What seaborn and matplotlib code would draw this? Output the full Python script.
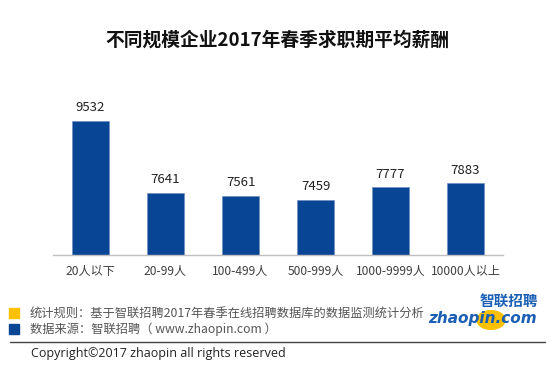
import numpy as np
import pandas as pd
import matplotlib
matplotlib.use("Agg")
import matplotlib.pyplot as plt
from matplotlib.patches import Rectangle, Circle
from matplotlib.lines import Line2D
import seaborn as sns

# data
sizes = ["20人以下", "20-99人", "100-499人", "500-999人", "1000-9999人", "10000人以上"]
salary = [9532, 7641, 7561, 7459, 7777, 7883]

title = "不同规模企业2017年春季求职期平均薪酬"
note_rule = "统计规则：基于智联招聘2017年春季在线招聘数据库的数据监测统计分析"
note_source = "数据来源：智联招聘（ www.zhaopin.com ）"
copyright_txt = "Copyright©2017 zhaopin all rights reserved"

sns.set_theme(style="white")
plt.rcParams["font.family"] = ["Noto Sans CJK SC", "DejaVu Sans"]

blue = "#084594"
yellow = "#FFC000"

df = pd.DataFrame({"size": sizes, "salary": salary})

fig = plt.figure(figsize=(5.5, 3.67), dpi=100)
ax = fig.add_axes([53 / 550, 1 - 255 / 367, 450 / 550, 171 / 367])

sns.barplot(data=df, x="size", y="salary", color=blue, width=0.5,
            saturation=1, ax=ax, edgecolor="#6f8fc0", linewidth=0.5)
ax.set_ylim(6000, 10500)
ax.set_xlim(-0.5, len(sizes) - 0.5)
ax.bar_label(ax.containers[0], fmt="%d", padding=5, fontsize=9.5, color="#222222")

ax.set_xlabel("")
ax.set_ylabel("")
ax.set_yticks([])
for side in ["top", "right", "left"]:
    ax.spines[side].set_visible(False)
ax.spines["bottom"].set_color("#c0c0c0")
ax.spines["bottom"].set_linewidth(1)
ax.tick_params(axis="x", which="major", length=0, labelsize=8.7,
               labelcolor="#404040", pad=7)
ax.set_xticks(np.arange(-0.5, len(sizes)), minor=True)
ax.tick_params(axis="x", which="minor", length=4, color="#c0c0c0", width=1,
               direction="out")

fig.text(277 / 550, 1 - 40 / 367, title, ha="center", va="center",
         fontsize=13.5, fontweight="bold", color="#111111")

# footer notes
fig.patches.append(Rectangle((9 / 550, 1 - 318 / 367), 10 / 550, 10 / 367,
                             transform=fig.transFigure, color=yellow))
fig.patches.append(Rectangle((9 / 550, 1 - 334 / 367), 10 / 550, 10 / 367,
                             transform=fig.transFigure, color=blue))
fig.text(30 / 550, 1 - 313 / 367, note_rule, ha="left", va="center",
         fontsize=8.8, color="#555555")
fig.text(30 / 550, 1 - 329 / 367, note_source, ha="left", va="center",
         fontsize=8.8, color="#555555")
fig.lines.append(Line2D([10 / 550, 545 / 550], [1 - 342 / 367] * 2,
                        transform=fig.transFigure, color="#444444", lw=1))
fig.text(31 / 550, 1 - 354 / 367, copyright_txt, ha="left", va="center",
         fontsize=9, color="#222222", family="Open Sans")

# logo
fig.patches.append(Circle((491 / 550, 1 - 320 / 367), 14 / 550,
                          transform=fig.transFigure, color=yellow))
fig.text(538 / 550, 1 - 301 / 367, "智联招聘", ha="right", va="center",
         fontsize=10.5, fontweight="bold", color="#1a5fb4", style="italic")
fig.text(537 / 550, 1 - 318 / 367, "zhaopin.com", ha="right", va="center",
         fontsize=11, fontweight="bold", color="#1a5fb4", style="italic",
         family="DejaVu Sans")

fig.savefig("out.png", dpi=100)
